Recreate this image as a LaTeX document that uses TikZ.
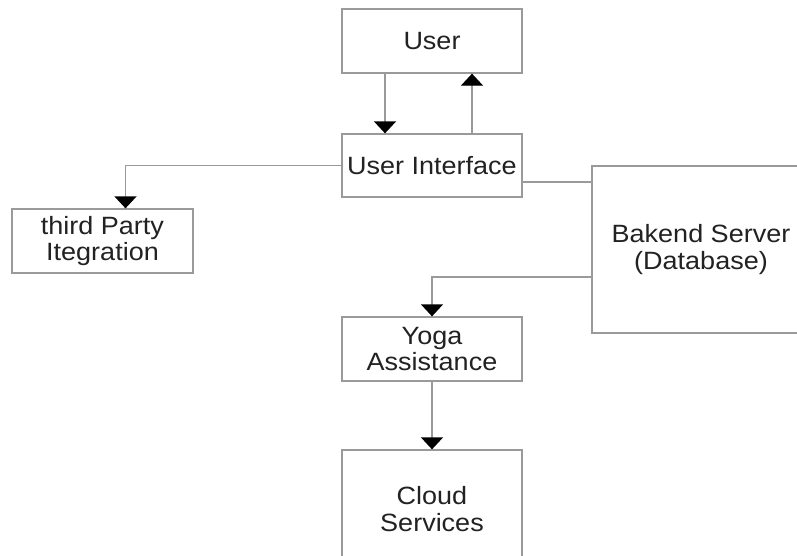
\documentclass[tikz,border=0pt]{standalone}
\usepackage{fontspec}
\setmainfont{Liberation Sans}[FakeStretch=1.08]
\usetikzlibrary{arrows.meta}
\definecolor{linegray}{HTML}{9A9A9A}
\definecolor{txt}{HTML}{222222}
\begin{document}
\begin{tikzpicture}[x=1pt,y=-1pt,
  box/.style={draw=linegray,line width=1.3pt,inner sep=0pt,align=center,
    text=txt,font=\fontsize{25}{26.5}\selectfont},
  conn/.style={draw=linegray,line width=1.3pt},
  arr/.style={conn,-{Triangle[width=22pt,length=12pt,color=black]}}]
\useasboundingbox (0,0) rectangle (797,555);
\clip (0,0) rectangle (797,555);
\fill[white] (0,0) rectangle (797,555);
\node[box,minimum width=180pt,minimum height=64pt] (user) at (432,41) {User};
\node[box,minimum width=180pt,minimum height=63pt] (ui) at (432,165.5) {User Interface};
\node[box,minimum width=181pt,minimum height=64pt] (tp) at (102.5,241) {third Party\\Itegration};
\node[box,minimum width=218pt,minimum height=167pt] (be) at (701,249.5) {Bakend Server\\(Database)};
\node[box,minimum width=180pt,minimum height=64pt] (yoga) at (432,349) {Yoga\\Assistance};
\node[box,minimum width=180pt,minimum height=118pt] (cloud) at (432,509) {Cloud\\Services};
\draw[arr] ([xshift=-47pt]user.south) -- ([xshift=-47pt]ui.north);
\draw[arr] ([xshift=40pt]ui.north) -- ([xshift=40pt]user.south);
\draw[arr] (ui.west) -| ([xshift=23pt]tp.north);
\draw[conn] ([yshift=-16.5pt]ui.east) -- ([yshift=-16.5pt]ui.east -| be.west);
\draw[arr] ([yshift=-27.5pt]be.west) -| (yoga.north);
\draw[arr] (yoga.south) -- (cloud.north);
\end{tikzpicture}
\end{document}
